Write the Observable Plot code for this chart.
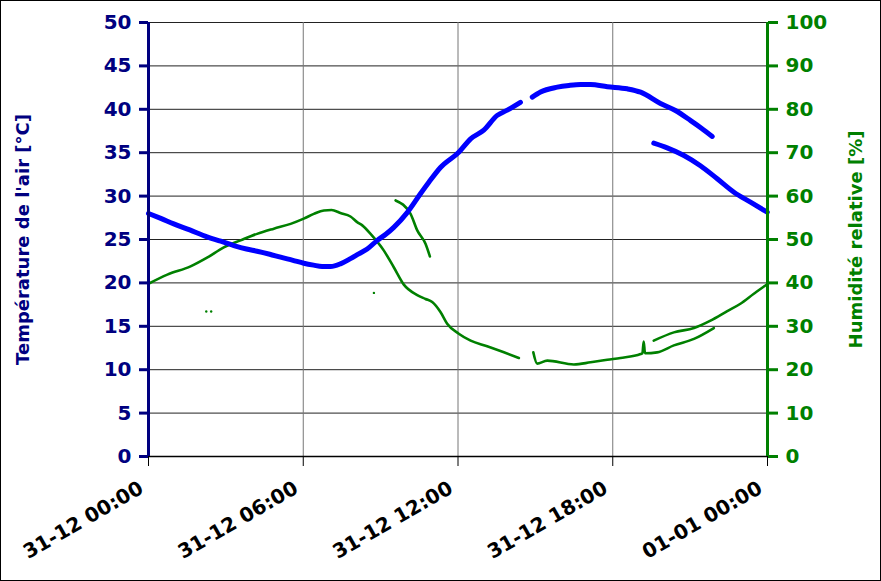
<!DOCTYPE html>
<html>
<head>
<meta charset="utf-8">
<script src="https://cdn.jsdelivr.net/npm/d3@7"></script>
<script src="https://cdn.jsdelivr.net/npm/@observablehq/plot@0.6"></script>
<style>
  html, body { margin: 0; padding: 0; background: #fff; }
  #chart svg { display: block; outline: 1px solid #000; outline-offset: -1px; }
</style>
</head>
<body>
<div id="chart"></div>
<script>
// ---- data (hour of day, value) ----
const xTickHours = [0, 6, 12, 18, 24];
const xTickLabels = ["31-12 00:00", "31-12 06:00", "31-12 12:00", "31-12 18:00", "01-01 00:00"];
const tempTicks = [0, 5, 10, 15, 20, 25, 30, 35, 40, 45, 50];

const titleLeft = "Température de l'air [°C]";
const titleRight = "Humidité relative [%]";

// Temperature (°C) segments
const tempA = [[0,28.0],[0.5,27.4],[0.98,26.8],[1.6,26.1],[2.27,25.3],[2.8,24.8],[3.31,24.3],[3.8,23.9],[4.21,23.65],[4.7,23.3],[5.12,22.96],[5.6,22.6],[6.02,22.27],[6.4,22.05],[6.73,21.9],[7.06,21.9],[7.44,22.2],[7.83,22.8],[8.15,23.35],[8.48,23.9],[8.87,24.9],[9.2,25.6],[9.51,26.4],[10.03,28.1],[10.55,30.3],[10.87,31.6],[11.32,33.3],[12.03,35.06],[12.49,36.6],[13.0,37.6],[13.52,39.3],[13.91,39.9],[14.42,40.8]];
const tempB = [[14.88,41.4],[15.2,42.0],[15.85,42.55],[16.3,42.75],[16.75,42.86],[17.14,42.86],[17.79,42.6],[18.56,42.36],[19.08,41.97],[19.85,40.67],[20.43,39.86],[21.02,38.7],[21.45,37.8],[21.86,36.87]];
const tempC = [[19.59,36.1],[20.11,35.56],[20.76,34.68],[21.4,33.5],[22.05,32.0],[22.7,30.45],[23.34,29.3],[23.99,28.15]];

// Relative humidity (%) segments
const humA = [[0,39.8],[0.73,41.9],[1.63,43.8],[2.27,45.8],[2.92,48.2],[3.57,49.8],[4.21,51.3],[4.86,52.5],[5.51,53.6],[6.02,54.8],[6.41,55.9],[6.8,56.7],[7.1,56.8],[7.44,56.1],[7.83,55.3],[8.09,54.0],[8.3,53.2],[8.61,51.3],[9.12,47.5],[9.51,43.6],[9.9,39.6],[10.42,37.2],[10.74,36.3],[11.0,35.6],[11.32,33.3],[11.58,30.6],[12.03,28.3],[12.49,26.7],[13.13,25.4],[13.78,24.0],[14.36,22.7]];
const humB = [[14.92,24.0],[15.07,21.4],[15.46,22.1],[16.49,21.2],[17.14,21.7],[17.79,22.3],[18.3,22.7],[19.08,23.6],[19.15,23.8],[19.2,26.5],[19.25,23.8],[19.72,24.0],[20.37,25.6],[21.15,27.1],[21.92,29.6]];
const humC = [[9.58,59.0],[10.16,55.9],[10.42,52.1],[10.74,49.0],[10.91,46.1]];
const humD = [[19.59,26.7],[20.37,28.6],[21.15,29.6],[21.79,31.3],[22.44,33.5],[22.95,35.2],[23.47,37.5],[23.92,39.4],[24,39.7]];
const humStray = [[2.24,33.4],[2.43,33.4],[8.74,37.7]];

const NAVY = "#000080", BLUE = "#0000ff", GREEN = "#008000";
const font = "DejaVu Sans";

const tempSeries = [tempA, tempB, tempC].flatMap((s, i) => s.map(([h, v]) => ({h, v, seg: i})));
const humSeries = [humA, humB, humC, humD].flatMap((s, i) => s.map(([h, v]) => ({h, v, seg: i})));
const strays = humStray.map(([h, v]) => ({h, v}));

const chart = Plot.plot({
  width: 881,
  height: 581,
  marginLeft: 148,
  marginRight: 114,
  marginTop: 22,
  marginBottom: 125,
  style: {fontFamily: font, background: "#fff"},
  x: {domain: [0, 24]},
  y: {domain: [0, 50]},
  marks: [
    Plot.gridY(tempTicks, {stroke: "#222", strokeOpacity: 1, strokeWidth: 1}),
    Plot.gridX([6, 12, 18], {stroke: "#777", strokeOpacity: 1, strokeWidth: 1}),
    Plot.ruleY([0], {stroke: "#000", strokeWidth: 1.5}),
    Plot.line(humSeries, {x: "h", y: d => d.v / 2, z: "seg", stroke: GREEN, strokeWidth: 2.6, curve: "monotone-x"}),
    Plot.dot(strays, {x: "h", y: d => d.v / 2, r: 1.2, fill: GREEN, stroke: null}),
    Plot.line(tempSeries, {x: "h", y: "v", z: "seg", stroke: BLUE, strokeWidth: 5, curve: "monotone-x"}),
    Plot.ruleX([0], {stroke: NAVY, strokeWidth: 3}),
    Plot.ruleX([24], {stroke: GREEN, strokeWidth: 3}),
    Plot.axisY(tempTicks, {anchor: "left", label: null, tickSize: 9, tickPadding: 8, stroke: NAVY, strokeWidth: 3, fill: NAVY, fontSize: 20, fontWeight: "bold", fontFamily: font}),
    Plot.axisY(tempTicks, {anchor: "right", label: null, tickSize: 10, tickPadding: 8, tickFormat: d => d * 2, stroke: GREEN, strokeWidth: 3, fill: GREEN, fontSize: 20, fontWeight: "bold", fontFamily: font}),
    Plot.axisX(xTickHours, {anchor: "bottom", label: null, tickSize: 10, tickFormat: () => "", stroke: "#000", strokeWidth: 1}),
    Plot.axisX(xTickHours, {anchor: "bottom", label: null, tickSize: 0, tickPadding: 30, dx: -7, tickRotate: -30, tickFormat: (d, i) => xTickLabels[i], fill: "#000", fontSize: 20, fontWeight: "bold", fontFamily: font}),
    Plot.text([titleLeft], {text: d => d, frameAnchor: "left", dx: -125, rotate: -90, textAnchor: "middle", fill: NAVY, fontSize: 18, fontWeight: "bold", fontFamily: font}),
    Plot.text([titleRight], {text: d => d, frameAnchor: "right", dx: 89, rotate: -90, textAnchor: "middle", fill: GREEN, fontSize: 18, fontWeight: "bold", fontFamily: font})
  ]
});
document.getElementById("chart").appendChild(chart);
</script>
</body>
</html>
